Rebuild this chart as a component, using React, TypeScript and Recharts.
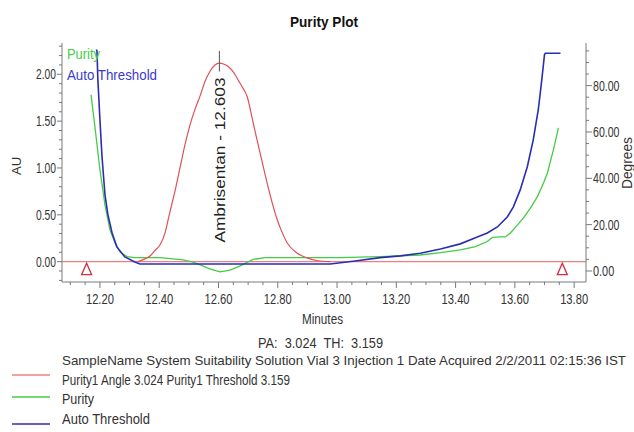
import React from "react";
import { LineChart, Line, XAxis, YAxis, ReferenceLine, ReferenceDot } from "recharts";

// ---- data ----
const redTimes = [12.328, 12.352, 12.369, 12.386, 12.403, 12.420, 12.436, 12.453, 12.470, 12.487, 12.504, 12.520, 12.538, 12.554, 12.571, 12.588, 12.603, 12.617, 12.634, 12.651, 12.668, 12.683, 12.697, 12.713, 12.730, 12.747, 12.764, 12.781, 12.798, 12.815, 12.832, 12.866, 12.899, 12.936, 12.977];
const redAU = [0.00, 0.03, 0.06, 0.12, 0.18, 0.31, 0.53, 0.75, 1.00, 1.25, 1.46, 1.62, 1.77, 1.92, 2.03, 2.10, 2.12, 2.11, 2.08, 2.02, 1.93, 1.85, 1.76, 1.54, 1.30, 1.07, 0.84, 0.63, 0.45, 0.31, 0.20, 0.09, 0.04, 0.01, 0.00];

const purityTimes = [12.170, 12.183, 12.200, 12.217, 12.234, 12.251, 12.268, 12.291, 12.318, 12.403, 12.480, 12.511, 12.538, 12.571, 12.605, 12.639, 12.673, 12.717, 12.757, 12.876, 13.011, 13.146, 13.281, 13.349, 13.416, 13.467, 13.507, 13.524, 13.551, 13.568, 13.585, 13.609, 13.629, 13.653, 13.676, 13.697, 13.710, 13.730, 13.747];
const purityDeg = [76.1, 62.3, 43.7, 28.5, 17.7, 12.1, 8.2, 6.2, 5.75, 5.8, 4.75, 3.9, 2.6, 0.9, -0.4, 0.4, 2.2, 5.0, 5.8, 5.8, 5.8, 6.2, 6.9, 7.9, 9.1, 10.5, 12.7, 14.5, 14.7, 14.7, 16.4, 19.9, 22.9, 27.2, 32.1, 38.1, 42.4, 52.3, 61.8];

const thresholdTimes = [12.188, 12.190, 12.193, 12.200, 12.207, 12.217, 12.227, 12.241, 12.257, 12.284, 12.318, 12.335, 12.977, 13.061, 13.146, 13.214, 13.281, 13.349, 13.416, 13.467, 13.507, 13.541, 13.575, 13.595, 13.618, 13.642, 13.662, 13.679, 13.689, 13.700, 13.703, 13.754];
const thresholdDeg = [95.6, 95.0, 82.6, 65.3, 49.3, 32.9, 24.2, 16.4, 10.4, 6.05, 3.9, 3.0, 3.0, 4.3, 5.75, 6.5, 7.65, 9.5, 11.7, 14.3, 16.4, 19.0, 23.4, 27.7, 35.0, 45.0, 56.6, 69.6, 80.4, 93.4, 94.0, 94.0];

const peakName = "Ambrisentan - 12.603";
const peakTime = 12.603;
const peakTop = 2.25;
const peakBottom = 2.03;
const peakLabelAU = 1.085;
const markerTimes = [12.155, 13.76];

const xTicks = [12.10, 12.15, 12.20, 12.25, 12.30, 12.35, 12.40, 12.45, 12.50, 12.55, 12.60, 12.65, 12.70, 12.75, 12.80, 12.85, 12.90, 12.95, 13.00, 13.05, 13.10, 13.15, 13.20, 13.25, 13.30, 13.35, 13.40, 13.45, 13.50, 13.55, 13.60, 13.65, 13.70, 13.75, 13.80];
const xLabels = [12.2, 12.4, 12.6, 12.8, 13.0, 13.2, 13.4, 13.6, 13.8];
const auTicks = [-0.2, -0.1, 0, 0.1, 0.2, 0.3, 0.4, 0.5, 0.6, 0.7, 0.8, 0.9, 1.0, 1.1, 1.2, 1.3, 1.4, 1.5, 1.6, 1.7, 1.8, 1.9, 2.0, 2.1, 2.2, 2.3];
const auLabels = [0, 0.5, 1.0, 1.5, 2.0];
const degTicks = [0, 5, 10, 15, 20, 25, 30, 35, 40, 45, 50, 55, 60, 65, 70, 75, 80, 85, 90, 95];
const degLabels = [0, 20, 40, 60, 80];

const titleText = "Purity Plot";
const paText = "PA:  3.024  TH:  3.159";
const legendRows = [
  "SampleName System Suitability Solution Vial 3 Injection 1 Date Acquired 2/2/2011 02:15:36 IST",
  "Purity1 Angle 3.024 Purity1 Threshold 3.159",
  "Purity",
  "Auto Threshold",
];

const redData = redTimes.map((t, i) => ({ t, v: redAU[i] }));
const purityData = purityTimes.map((t, i) => ({ t, v: purityDeg[i] }));
const thresholdData = thresholdTimes.map((t, i) => ({ t, v: thresholdDeg[i] }));

const RED = "#e0505a";
const RED_BASE = "#ec8080";
const GREEN = "#44cc44";
const BLUE = "#2c2cb4";
const AXIS = "#7a7a7a";
const TXT = "#333";
const FONT = "'Liberation Sans', Arial, sans-serif";

const near = (v: number, list: number[]) => list.some((l) => Math.abs(l - v) < 1e-6);

const XTick = (props: any) => {
  const { x, y, payload } = props;
  const major = near(payload.value, xLabels);
  return (
    <g>
      <line x1={x} x2={x} y1={y} y2={y + (major ? 6 : 3)} stroke={AXIS} />
      {major && (
        <text x={x} y={y + 21.5} textAnchor="middle" fontSize={15} fontFamily={FONT} fill={TXT} textLength={28} lengthAdjust="spacingAndGlyphs">
          {payload.value.toFixed(2)}
        </text>
      )}
    </g>
  );
};

const LeftTick = (props: any) => {
  const { x, y, payload } = props;
  const major = near(payload.value, auLabels);
  return (
    <g>
      <line x1={x} x2={x - (major ? 5 : 3)} y1={y} y2={y} stroke={AXIS} />
      {major && (
        <text x={x - 6} y={y + 5} textAnchor="end" fontSize={14} fontFamily={FONT} fill={TXT} textLength={20} lengthAdjust="spacingAndGlyphs">
          {payload.value.toFixed(2)}
        </text>
      )}
    </g>
  );
};

const RightTick = (props: any) => {
  const { x, y, payload } = props;
  const major = near(payload.value, degLabels);
  const label = payload.value.toFixed(2);
  return (
    <g>
      <line x1={x} x2={x + (major ? 6 : 3)} y1={y} y2={y} stroke={AXIS} />
      {major && (
        <text x={x + 7} y={y + 5} textAnchor="start" fontSize={14} fontFamily={FONT} fill={TXT} textLength={label.length * 5.3} lengthAdjust="spacingAndGlyphs">
          {label}
        </text>
      )}
    </g>
  );
};

const PeakLabel = (props: any) => {
  const { cx, cy } = props;
  return (
    <text
      x={0}
      y={0}
      transform={`translate(${cx},${cy}) rotate(-90)`}
      textAnchor="middle"
      dominantBaseline="central"
      fontSize={15}
      fontFamily={FONT}
      fill="#222"
      textLength={165}
      lengthAdjust="spacingAndGlyphs"
    >
      {peakName}
    </text>
  );
};

const Triangle = (props: any) => {
  const { cx, cy } = props;
  return <polygon points={`${cx},${cy + 1.5} ${cx - 5},${cy + 13} ${cx + 5},${cy + 13}`} fill="#fff" stroke="#d03040" strokeWidth={1.3} />;
};

const pre = { whiteSpace: "pre" as const };

export default function App() {
  return (
    <div style={{ position: "absolute", left: 0, top: 0, width: 634, height: 432, background: "#fff" }}>
      <div style={{ position: "absolute", left: 0, top: 0 }}>
        <LineChart width={634} height={432} data={redData} margin={{ top: 43, right: 0, bottom: 130, left: 0 }}>
          <XAxis
            dataKey="t"
            type="number"
            domain={[12.072, 13.84]}
            allowDataOverflow
            ticks={xTicks}
            interval={0}
            tickSize={0}
            tickMargin={0}
            tickLine={false}
            tick={<XTick />}
            axisLine={{ stroke: AXIS }}
            height={20}
          />
          <XAxis xAxisId="top" orientation="top" dataKey="t" type="number" domain={[12.072, 13.84]} allowDataOverflow tick={false} tickLine={false} axisLine={{ stroke: AXIS }} height={0} />
          <YAxis
            yAxisId="au"
            orientation="left"
            type="number"
            domain={[-0.217, 2.334]}
            allowDataOverflow
            ticks={auTicks}
            interval={0}
            tickSize={0}
            tickMargin={0}
            tickLine={false}
            tick={<LeftTick />}
            axisLine={{ stroke: AXIS }}
            width={62}
          />
          <YAxis
            yAxisId="deg"
            orientation="right"
            type="number"
            domain={[-4.76, 98.4]}
            allowDataOverflow
            ticks={degTicks}
            interval={0}
            tickSize={0}
            tickMargin={0}
            tickLine={false}
            tick={<RightTick />}
            axisLine={{ stroke: AXIS }}
            width={48}
          />
          <ReferenceLine yAxisId="au" y={0} stroke={RED_BASE} strokeWidth={1.3} />
          <Line yAxisId="deg" data={purityData} dataKey="v" type="linear" stroke={GREEN} strokeWidth={1.3} dot={false} isAnimationActive={false} />
          <Line yAxisId="deg" data={thresholdData} dataKey="v" type="linear" stroke={BLUE} strokeWidth={1.6} dot={false} isAnimationActive={false} />
          <Line yAxisId="au" data={redData} dataKey="v" type="monotone" stroke={RED} strokeWidth={1.2} dot={false} isAnimationActive={false} />
          <ReferenceLine yAxisId="au" segment={[{ x: peakTime, y: peakTop }, { x: peakTime, y: peakBottom }]} stroke="#555" strokeWidth={1} />
          <ReferenceDot yAxisId="au" x={peakTime} y={peakLabelAU} shape={<PeakLabel />} />
          {markerTimes.map((m) => (
            <ReferenceDot key={m} yAxisId="au" x={m} y={0} shape={<Triangle />} />
          ))}
        </LineChart>
      </div>
      <svg width={634} height={432} style={{ position: "absolute", left: 0, top: 0, pointerEvents: "none" }}>
        <text x={324} y={27} textAnchor="middle" fontSize={14} fontWeight="bold" fontFamily={FONT} fill="#111" textLength={68} lengthAdjust="spacingAndGlyphs">
          {titleText}
        </text>
        <text x={67} y={59} fontSize={15} fontFamily={FONT} fill={GREEN} textLength={33} lengthAdjust="spacingAndGlyphs">Purity</text>
        <text x={67} y={79.5} fontSize={15} fontFamily={FONT} fill="#3a3ad0" textLength={90} lengthAdjust="spacingAndGlyphs">Auto Threshold</text>
        <text x={0} y={0} transform="translate(21,166) rotate(-90)" textAnchor="middle" fontSize={13} fontFamily={FONT} fill={TXT}>AU</text>
        <text x={0} y={0} transform="translate(632,163) rotate(-90)" textAnchor="middle" fontSize={14} fontFamily={FONT} fill={TXT} textLength={52} lengthAdjust="spacingAndGlyphs">Degrees</text>
        <text x={322.5} y={324} textAnchor="middle" fontSize={14} fontFamily={FONT} fill={TXT} textLength={41} lengthAdjust="spacingAndGlyphs">Minutes</text>
        <text x={320.5} y={348} textAnchor="middle" fontSize={14.5} fontFamily={FONT} fill={TXT} style={pre} textLength={125} lengthAdjust="spacingAndGlyphs">{paText}</text>
        <text x={62} y={365} fontSize={13.4} fontFamily={FONT} fill={TXT} textLength={564} lengthAdjust="spacingAndGlyphs">{legendRows[0]}</text>
        <text x={62} y={384.5} fontSize={15} fontFamily={FONT} fill={TXT} textLength={228} lengthAdjust="spacingAndGlyphs">{legendRows[1]}</text>
        <text x={62} y={403.5} fontSize={15} fontFamily={FONT} fill={TXT} textLength={32} lengthAdjust="spacingAndGlyphs">{legendRows[2]}</text>
        <text x={62} y={424} fontSize={15} fontFamily={FONT} fill={TXT} textLength={88} lengthAdjust="spacingAndGlyphs">{legendRows[3]}</text>
        <line x1={12} x2={50} y1={375} y2={375} stroke={RED_BASE} strokeWidth={1.3} />
        <line x1={12} x2={50} y1={397} y2={397} stroke={GREEN} strokeWidth={1.3} />
        <line x1={12} x2={50} y1={424} y2={424} stroke={BLUE} strokeWidth={1.6} />
      </svg>
    </div>
  );
}
